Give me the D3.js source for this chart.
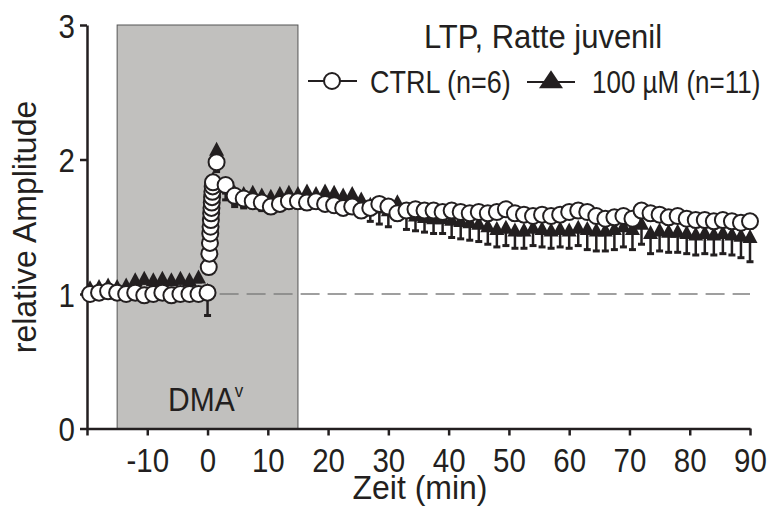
<!DOCTYPE html>
<html>
<head>
<meta charset="utf-8">
<script src="https://cdn.jsdelivr.net/npm/d3@7"></script>
<style>
  body { margin: 0; background: #fff; }
  svg { display: block; font-family: "Liberation Sans", Arial, sans-serif; }
</style>
</head>
<body>
<svg width="769" height="511"></svg>
<script>
// time points (min)
const baseTimes = [-19.5, -18, -16.5, -15, -13.5, -12, -10.5, -9, -7.5, -6, -4.5, -3, -1.5, 0];
const stackTimes = [0.2, 0.3, 0.4, 0.45, 0.5, 0.55, 0.6, 0.65, 0.7, 0.75, 0.8, 0.85, 0.9, 1.5];
const postTimes = [3, 4.5, 6, 7.5, 9, 10.5, 12, 13.5, 15, 16.5, 18, 19.5, 21, 22.5, 24, 25.5, 27, 28.5, 30,
  31.5, 33, 34.5, 36, 37.5, 39, 40.5, 42, 43.5, 45, 46.5, 48, 49.5, 51, 52.5, 54, 55.5, 57, 58.5, 60,
  61.5, 63, 64.5, 66, 67.5, 69, 70.5, 72, 73.5, 75, 76.5, 78, 79.5, 81, 82.5, 84, 85.5, 87, 88.5, 90];

// CTRL (n=6)
const ctrlBase = [1.00, 1.01, 1.02, 1.01, 1.00, 1.01, 0.99, 1.00, 1.01, 0.99, 1.00, 1.00, 1.00, 1.01];
const ctrlStack = [1.20, 1.30, 1.38, 1.45, 1.50, 1.55, 1.60, 1.64, 1.68, 1.72, 1.76, 1.80, 1.83, 1.98];
const ctrlPost = [1.81, 1.73, 1.71, 1.69, 1.68, 1.65, 1.67, 1.69, 1.69, 1.68, 1.69, 1.67, 1.66, 1.64, 1.65,
  1.62, 1.64, 1.67, 1.65, 1.60, 1.62, 1.63, 1.62, 1.62, 1.61, 1.62, 1.61, 1.60, 1.61, 1.60, 1.61, 1.63,
  1.60, 1.59, 1.58, 1.59, 1.58, 1.59, 1.61, 1.62, 1.61, 1.58, 1.56, 1.57, 1.58, 1.56, 1.62, 1.60, 1.59,
  1.57, 1.58, 1.56, 1.55, 1.55, 1.54, 1.55, 1.54, 1.53, 1.54];
const ctrlBaseSem = [0.02, 0.02, 0.02, 0.02, 0.02, 0.02, 0.02, 0.02, 0.02, 0.02, 0.02, 0.02, 0.02, 0.02];
const ctrlStackSem = [0.03, 0.03, 0.03, 0.03, 0.03, 0.03, 0.03, 0.03, 0.03, 0.03, 0.03, 0.03, 0.04, 0.07];
const ctrlPostSem = [0.06, 0.06, 0.06, 0.05, 0.06, 0.05, 0.05, 0.05, 0.05, 0.05, 0.05, 0.05, 0.05, 0.05, 0.05,
  0.05, 0.05, 0.05, 0.05, 0.05, 0.05, 0.05, 0.05, 0.05, 0.05, 0.05, 0.05, 0.05, 0.05, 0.05, 0.05, 0.05,
  0.05, 0.05, 0.05, 0.05, 0.05, 0.05, 0.05, 0.05, 0.05, 0.05, 0.05, 0.05, 0.05, 0.05, 0.05, 0.05, 0.05,
  0.05, 0.05, 0.05, 0.05, 0.05, 0.05, 0.05, 0.05, 0.05, 0.05];

// 100 µM (n=11)
const dmaBase = [1.04, 1.05, 1.06, 1.05, 1.06, 1.10, 1.11, 1.10, 1.11, 1.10, 1.11, 1.10, 1.12, 1.02];
const dmaStack = [1.25, 1.35, 1.42, 1.50, 1.55, 1.60, 1.64, 1.68, 1.72, 1.75, 1.78, 1.82, 1.85, 2.07];
const dmaPost = [1.80, 1.75, 1.74, 1.75, 1.73, 1.72, 1.74, 1.75, 1.74, 1.76, 1.74, 1.76, 1.75, 1.73, 1.74,
  1.70, 1.66, 1.64, 1.62, 1.68, 1.60, 1.58, 1.57, 1.56, 1.56, 1.55, 1.54, 1.53, 1.52, 1.50, 1.48, 1.49,
  1.47, 1.47, 1.49, 1.48, 1.47, 1.48, 1.47, 1.49, 1.48, 1.47, 1.47, 1.48, 1.50, 1.48, 1.52, 1.45, 1.47,
  1.46, 1.46, 1.45, 1.44, 1.45, 1.44, 1.45, 1.44, 1.43, 1.42];
const dmaBaseSem = [0.03, 0.03, 0.03, 0.03, 0.03, 0.03, 0.03, 0.03, 0.03, 0.03, 0.03, 0.03, 0.03, 0.18];
const dmaStackSem = [0.05, 0.05, 0.05, 0.05, 0.05, 0.05, 0.05, 0.05, 0.05, 0.05, 0.05, 0.05, 0.06, 0.08];
const dmaPostSem = [0.10, 0.10, 0.10, 0.10, 0.10, 0.10, 0.10, 0.10, 0.10, 0.10, 0.10, 0.10, 0.10, 0.10, 0.10,
  0.11, 0.12, 0.12, 0.12, 0.12, 0.12, 0.11, 0.11, 0.11, 0.11, 0.13, 0.13, 0.13, 0.13, 0.13, 0.13, 0.13,
  0.13, 0.13, 0.13, 0.13, 0.13, 0.13, 0.13, 0.13, 0.15, 0.15, 0.15, 0.15, 0.15, 0.15, 0.15, 0.15, 0.15,
  0.15, 0.15, 0.15, 0.15, 0.15, 0.15, 0.15, 0.15, 0.16, 0.18];

const xTicks = [-20, -10, 0, 10, 20, 30, 40, 50, 60, 70, 80, 90];
const yTicks = [0, 1, 2, 3];
const drugWindow = [-15, 15];

const ink = '#231f20';
const svg = d3.select('svg');

const x = d3.scaleLinear().domain([-20, 90]).range([87, 750]);
const y = d3.scaleLinear().domain([0, 3]).range([428.5, 25]);

const times = baseTimes.concat(stackTimes, postTimes);
const ctrlVals = ctrlBase.concat(ctrlStack, ctrlPost);
const ctrlSem = ctrlBaseSem.concat(ctrlStackSem, ctrlPostSem);
const dmaVals = dmaBase.concat(dmaStack, dmaPost);
const dmaSem = dmaBaseSem.concat(dmaStackSem, dmaPostSem);
const ctrl = times.map((t, i) => ({ t, v: ctrlVals[i], e: ctrlSem[i] }));
const dma = times.map((t, i) => ({ t, v: dmaVals[i], e: dmaSem[i] }));

// text that is a bit taller than the font's natural shape
function label(sel, px, py, str, size, anchor, sy, rot) {
  return sel.append('text')
    .attr('transform', `translate(${px},${py})${rot ? ` rotate(${rot})` : ''} scale(1,${sy})`)
    .attr('text-anchor', anchor)
    .attr('font-size', size)
    .attr('fill', ink)
    .text(str);
}

// drug application box
svg.append('rect')
  .attr('x', x(drugWindow[0]))
  .attr('y', y(3))
  .attr('width', x(drugWindow[1]) - x(drugWindow[0]))
  .attr('height', y(0) - y(3))
  .attr('fill', '#c1c0be')
  .attr('stroke', '#555')
  .attr('stroke-width', 1);

label(svg, 168, 411, 'DMA', 30, 'start', 1.08)
  .append('tspan')
  .attr('dy', -13)
  .attr('font-size', 17)
  .text('v');

// baseline dashed line
svg.append('line')
  .attr('x1', x(2)).attr('x2', x(90))
  .attr('y1', y(1)).attr('y2', y(1))
  .attr('stroke', '#808080')
  .attr('stroke-width', 1.6)
  .attr('stroke-dasharray', '19,8');

// axes
const xAxis = svg.append('g')
  .attr('transform', `translate(0,${y(0)})`)
  .call(d3.axisBottom(x).tickValues(xTicks).tickSize(7).tickSizeOuter(0)
    .tickFormat(d => d === -20 ? '' : String(d)));
const yAxis = svg.append('g')
  .attr('transform', `translate(${x(-20)},0)`)
  .call(d3.axisLeft(y).tickValues(yTicks).tickSize(7).tickSizeOuter(0)
    .tickFormat(d => String(d)));

[xAxis, yAxis].forEach(g => {
  g.select('.domain').attr('stroke', ink).attr('stroke-width', 2.5);
  g.selectAll('.tick line').attr('stroke', ink).attr('stroke-width', 2.5);
  g.selectAll('.tick text').attr('fill', ink).attr('font-size', 29.5)
    .attr('font-family', '"Liberation Sans", Arial, sans-serif');
});
xAxis.selectAll('.tick text').attr('y', 0).attr('dy', null)
  .attr('transform', 'translate(0,43) scale(1,1.12)');
yAxis.selectAll('.tick text').attr('x', 0).attr('dy', null)
  .attr('transform', 'translate(-12,12) scale(1,1.12)');

label(svg, 36, 227, 'relative Amplitude', 32, 'middle', 1.04, -90);
label(svg, 420, 499, 'Zeit (min)', 32, 'middle', 1.04);

// error bars (lower only)
function errorBars(data, cls) {
  const g = svg.append('g').attr('class', cls);
  const eb = g.selectAll('g').data(data).enter().append('g');
  eb.append('line')
    .attr('x1', d => x(d.t)).attr('x2', d => x(d.t))
    .attr('y1', d => y(d.v)).attr('y2', d => y(d.v - d.e))
    .attr('stroke', ink).attr('stroke-width', 2.5);
  eb.append('line')
    .attr('x1', d => x(d.t) - 3.5).attr('x2', d => x(d.t) + 3.5)
    .attr('y1', d => y(d.v - d.e)).attr('y2', d => y(d.v - d.e))
    .attr('stroke', ink).attr('stroke-width', 3);
}

const tri = (cx, cy, w, h) => `M${cx},${cy - h * 0.6}L${cx + w / 2},${cy + h * 0.4}L${cx - w / 2},${cy + h * 0.4}Z`;

errorBars(dma, 'dma-err');
svg.append('g').selectAll('path').data(dma).enter().append('path')
  .attr('d', d => tri(x(d.t), y(d.v), 15, 14))
  .attr('fill', ink);

errorBars(ctrl, 'ctrl-err');
svg.append('g').selectAll('circle').data(ctrl).enter().append('circle')
  .attr('cx', d => x(d.t)).attr('cy', d => y(d.v))
  .attr('r', 8)
  .attr('fill', '#fff')
  .attr('stroke', ink)
  .attr('stroke-width', 2);

// title and legend
label(svg, 543, 48, 'LTP, Ratte juvenil', 31, 'middle', 1.05);

const legend = svg.append('g');
legend.append('line').attr('x1', 308).attr('x2', 357).attr('y1', 81).attr('y2', 81)
  .attr('stroke', ink).attr('stroke-width', 2);
legend.append('circle').attr('cx', 332).attr('cy', 81).attr('r', 8)
  .attr('fill', '#fff').attr('stroke', ink).attr('stroke-width', 2);
label(legend, 370, 93, 'CTRL (n=6)', 27, 'start', 1.15);
legend.append('line').attr('x1', 527).attr('x2', 575).attr('y1', 82).attr('y2', 82)
  .attr('stroke', ink).attr('stroke-width', 2);
legend.append('path').attr('d', tri(551, 81, 24, 18)).attr('fill', ink);
label(legend, 592, 93, '100 µM (n=11)', 26, 'start', 1.18);
</script>
</body>
</html>
